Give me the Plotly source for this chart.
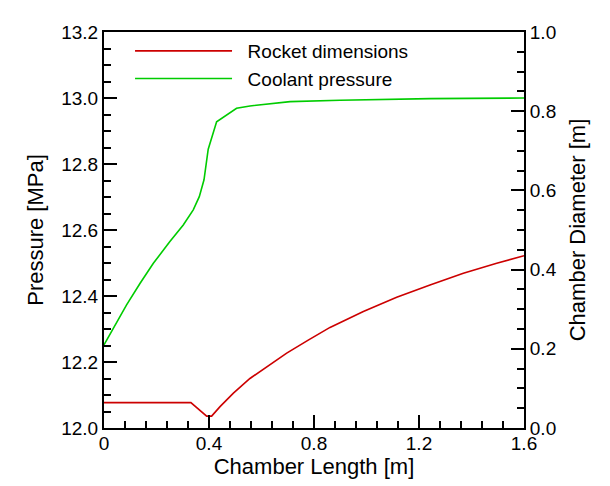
import plotly.graph_objects as go

# Coolant pressure (left axis, MPa)
coolant_len = [0.0, 0.036, 0.086, 0.137, 0.188, 0.251, 0.302, 0.340, 0.363, 0.381,
               0.397, 0.429, 0.505, 0.556, 0.709, 0.899, 1.090, 1.242, 1.6]
coolant_p = [12.252, 12.302, 12.373, 12.438, 12.499, 12.565, 12.615, 12.661, 12.701, 12.752,
             12.845, 12.928, 12.969, 12.976, 12.989, 12.993, 12.996, 12.998, 13.0]

# Rocket dimensions (right axis, chamber diameter m)
rocket_len = [0.0, 0.331, 0.391, 0.410, 0.442, 0.493, 0.556, 0.620, 0.696, 0.778,
              0.861, 0.988, 1.115, 1.242, 1.369, 1.496, 1.6]
rocket_d = [0.064, 0.064, 0.030, 0.030, 0.054, 0.088, 0.125, 0.155, 0.189, 0.222,
            0.254, 0.294, 0.330, 0.361, 0.391, 0.416, 0.435]

x_ticks = [0, 0.4, 0.8, 1.2, 1.6]
x_labels = ["0", "0.4", "0.8", "1.2", "1.6"]

FONT = "Liberation Sans, Arial, sans-serif"
RED = "rgb(204,0,0)"
GREEN = "rgb(0,204,0)"
PAD = "\u00a0\u00a0"

fig = go.Figure()
fig.add_trace(go.Scatter(x=rocket_len, y=rocket_d, mode="lines", name=PAD + "Rocket dimensions",
                         line=dict(color=RED, width=1.6), yaxis="y2"))
fig.add_trace(go.Scatter(x=coolant_len, y=coolant_p, mode="lines", name=PAD + "Coolant pressure",
                         line=dict(color=GREEN, width=1.6), yaxis="y"))

axis_common = dict(showline=True, linecolor="black", linewidth=2, ticks="inside",
                   ticklen=13, tickwidth=2, tickcolor="black", showgrid=False,
                   zeroline=False, tickfont=dict(family=FONT, size=19, color="black"))

fig.update_layout(
    width=610, height=486,
    margin=dict(l=104, r=86, t=32, b=58),
    paper_bgcolor="white", plot_bgcolor="white",
    font=dict(family=FONT, color="black"),
    showlegend=True,
    legend=dict(x=0.062, y=1.0, xanchor="left", yanchor="top",
                xref="paper", yref="paper",
                font=dict(family=FONT, size=19, color="black"),
                bgcolor="rgba(0,0,0,0)", itemwidth=97, tracegroupgap=0),
    xaxis=dict(range=[0, 1.6], tickvals=x_ticks, ticktext=x_labels, mirror=True,
               ticklabelstandoff=-3,
               title=dict(text="Chamber Length [m]", font=dict(family=FONT, size=22), standoff=0),
               minor=dict(dtick=0.08, tick0=0, ticks="inside", ticklen=7, tickwidth=2,
                          tickcolor="black", showgrid=False),
               **axis_common),
    yaxis=dict(range=[12.0, 13.2], dtick=0.2, tickformat=".1f",
               title=dict(text="Pressure [MPa]", font=dict(family=FONT, size=22), standoff=12),
               minor=dict(dtick=0.05, ticks="inside", ticklen=7, tickwidth=2,
                          tickcolor="black", showgrid=False),
               **axis_common),
    yaxis2=dict(range=[0.0, 1.0], dtick=0.2, tickformat=".1f", overlaying="y", side="right",
                title=dict(text="Chamber Diameter [m]", font=dict(family=FONT, size=22), standoff=14),
                minor=dict(dtick=0.05, ticks="inside", ticklen=7, tickwidth=2,
                           tickcolor="black", showgrid=False),
                **axis_common),
)

fig.write_html("out.html", config={"displayModeBar": False},
               post_script="document.body.style.margin='0';")
